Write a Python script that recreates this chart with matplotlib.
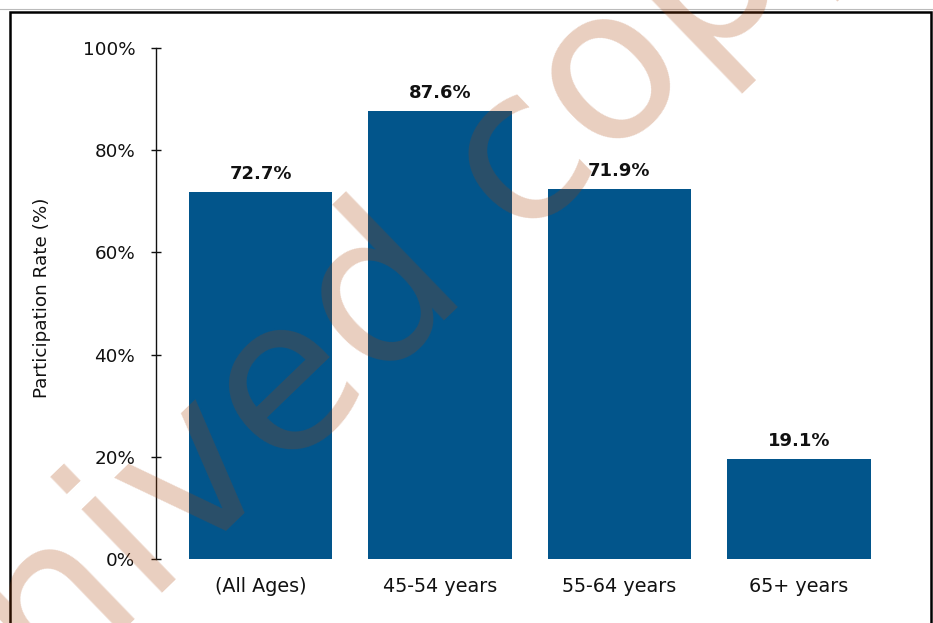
import matplotlib
matplotlib.use('Agg')
import matplotlib.pyplot as plt
import matplotlib.patches as mpatches
from matplotlib.lines import Line2D

# ── DATA ─────────────────────────────────────────────────────────────────
CATEGORIES = ['(All Ages)', '45-54 years', '55-64 years', '65+ years']
BAR_HEIGHTS = [71.9, 87.7, 72.4, 19.6]          # bar tops as drawn
VALUE_LABELS = ['72.7%', '87.6%', '71.9%', '19.1%']  # printed labels
Y_TICKS = [0, 20, 40, 60, 80, 100]

BLUE = '#02558B'
INK = '#111111'
W, H, DPI = 933, 623, 100

plt.rcParams['font.family'] = ['DejaVu Sans']

fig = plt.figure(figsize=(W / DPI, H / DPI), dpi=DPI)
fig.patch.set_facecolor('white')

# axes placed to match the reference pixel layout
ax_left, ax_bottom = 155.7 / W, 1 - 558.7 / H
ax_w, ax_h = (906.4 - 155.7) / W, (558.7 - 48.3) / H
ax = fig.add_axes([ax_left, ax_bottom, ax_w, ax_h])
ax.set_facecolor('none')

x = list(range(len(CATEGORIES)))
ax.bar(x, BAR_HEIGHTS, width=0.8, color=BLUE, zorder=2)
for xi, h, lab in zip(x, BAR_HEIGHTS, VALUE_LABELS):
    ax.annotate(lab, xy=(xi, h), xytext=(0, 9.4), textcoords='offset points',
                ha='center', va='baseline', fontsize=13, fontweight='bold',
                color=INK)

ax.set_xlim(-0.585, 3.6)
ax.set_ylim(0, 100)
ax.set_yticks(Y_TICKS)
ax.set_yticklabels([f'{t}%' for t in Y_TICKS])
ax.set_xticks(x)
ax.set_xticklabels(CATEGORIES)

for side in ['top', 'right', 'bottom']:
    ax.spines[side].set_visible(False)
ax.spines['left'].set_linewidth(1.0)
ax.spines['left'].set_color(INK)
ax.tick_params(axis='y', direction='inout', length=6.5, width=1.0,
               pad=11.5, labelsize=13.2, colors=INK)
ax.tick_params(axis='x', length=0, pad=13.2, labelsize=13.8, colors=INK)

ax.set_ylabel('Participation Rate (%)', fontsize=13.2, color=INK,
              va='center')
ax.yaxis.set_label_coords((42.5 - 155.7) / (906.4 - 155.7), 0.512)

# outer frame (bottom edge falls outside the picture)
fig.add_artist(Line2D([0, 1], [1 - 9.3 / H, 1 - 9.3 / H],
                      transform=fig.transFigure, color='#bbbbbb', lw=0.8))
frame = mpatches.Rectangle((10 / W, -0.1), (931 - 10) / W, 1.1 - 11.8 / H,
                           transform=fig.transFigure, fill=False,
                           edgecolor='black', lw=1.8, zorder=5)
fig.add_artist(frame)

# watermark
fig.text(304 / W, 1 - 375 / H, 'Archived copy', rotation=44,
         rotation_mode='anchor', ha='center', va='center',
         fontsize=153, color='#A73F03', alpha=0.25, zorder=10)

fig.savefig('out.png', dpi=DPI, facecolor='white')
